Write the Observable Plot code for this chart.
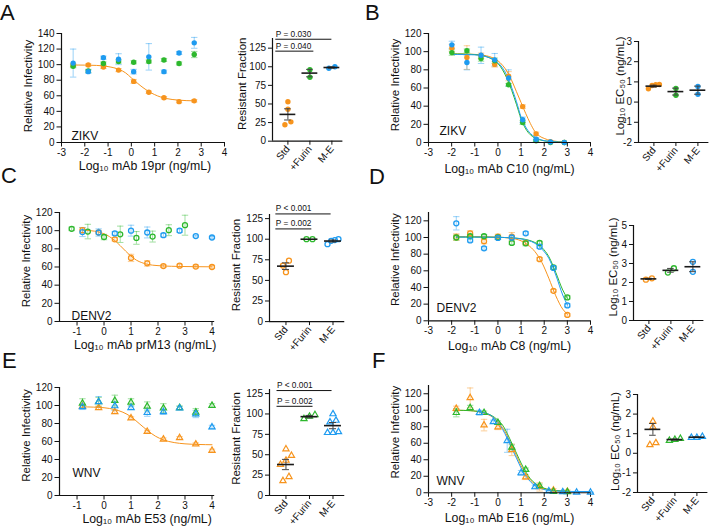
<!DOCTYPE html>
<html><head><meta charset="utf-8">
<script src="https://cdn.jsdelivr.net/npm/d3@7"></script>
<script src="https://cdn.jsdelivr.net/npm/@observablehq/plot@0.6"></script>
<style>
body{margin:0;background:#fff;}
#fig{position:relative;width:713px;height:529px;overflow:hidden;font-family:"Liberation Sans",Arial,Helvetica,sans-serif;background:#fff;}
#fig svg{position:absolute;overflow:visible;}
.lett{position:absolute;font-size:22px;line-height:1.15;color:#111;}
</style></head><body><div id="fig"></div>
<script>
// ---------------- DATA ----------------
const CATS = ["Std", "+Furin", "M-E"];

// Panel A: ZIKV, mAb 19pr
const A_x = [-2.5, -1.85, -1.2, -0.55, 0.1, 0.75, 1.4, 2.05, 2.7];
const A_std = [99.5, 99.5, 97, 93, 78.5, 64.5, 57.5, 52.5, 53.5];
const A_std_err = [2, 1.5, 2, 2, 2.5, 1.5, 1.5, 1.5, 1.5];
const A_furin = [98, 92, 101.5, 104, 103, 104, 106, 101.5, 113];
const A_furin_err = [2, 2, 2, 2, 2, 2, 2, 2, 4];
const A_me = [102, 91, 109, 107, 91, 110, 91, 115, 128];
const A_me_err = [18, 2, 2, 7, 3, 17, 2, 2, 7];
const A_curve_x = [-2.5, -2, -1.5, -1, -0.5, -0.25, 0, 0.25, 0.5, 0.75, 1, 1.25, 1.5, 2, 2.7];
const A_curve_std = [99.5, 99.4, 99, 97.5, 93.5, 89.5, 83, 76.5, 70.5, 65.5, 61.5, 58.5, 56.5, 54.5, 53.5];
const A_dot_std = [53, 43, 26, 22];
const A_dot_furin = [96, 86];
const A_dot_me = [98, 100];
const A_mean = [36, 91.5, 99];
const A_sem = [7.5, 5, 1];
const A_p_text = ["P = 0.030", "P = 0.040"];
const A_p_y = [137, 121];

// Panel B: ZIKV, mAb C10
const B_x = [-1.99, -1.34, -0.73, -0.14, 0.46, 1.07, 1.65, 2.27, 2.87];
const B_std = [104, 93.5, 95.5, 86, 73, 39.5, 9.5, 1, 0];
const B_std_err = [4, 13, 3, 3, 5, 2, 2, 1, 0];
const B_furin = [99, 101, 92.5, 90, 63.5, 22, 2, 0, 0];
const B_furin_err = [3, 2, 3, 3, 1.5, 2, 1, 0, 0];
const B_me = [107.5, 88, 96, 91, 71, 25, 3.5, 0.5, 0];
const B_me_err = [4, 8, 9, 7, 9, 3, 2, 1, 0];
const B_curve_x = [-2, -1.5, -1, -0.5, -0.2, 0, 0.2, 0.4, 0.6, 0.8, 1.0, 1.2, 1.4, 1.6, 1.8, 2.0, 2.3, 2.9];
const B_curve_std = [97.5, 97.4, 97, 95.5, 93, 90, 85, 78, 68, 56, 44, 32, 21, 12, 7, 4.5, 2, 0.5];
const B_curve_furin = [97.5, 97.4, 96.8, 94.5, 91, 87, 80, 70, 57, 42, 26, 15, 8.5, 5, 3, 1.8, 1, 0.2];
const B_curve_me = [97, 96.9, 96.5, 94.5, 91.5, 88, 82, 73, 60, 45, 28, 17, 10, 6, 3.5, 2, 1, 0.2];
const B_dot_std = [0.66, 0.82, 0.86, 0.87];
const B_dot_furin = [0.67, 0.34];
const B_dot_me = [0.77, 0.39];
const B_mean = [0.79, 0.52, 0.59];
const B_sem = [0.05, 0.17, 0.2];

// Panel C: DENV2, mAb prM13
const C_x = [-0.8, -0.2, 0.4, 1.0, 1.6, 2.2, 2.8, 3.4, 4.0];
const C_x_furin = [-1.2, -0.6, 0, 0.6, 1.2, 1.8, 2.4, 3.0];
const C_std = [100.5, 98, 90.5, 70, 64, 61, 61.5, 60.5, 60];
const C_std_err = [3, 2, 2, 4, 3, 1.5, 1.5, 1.5, 1.5];
const C_furin = [102, 99, 93, 96, 92, 93.5, 100.5, 106];
const C_furin_err = [2, 8, 3, 9, 7, 6, 6, 11];
const C_me = [98.5, 98, 97, 100, 98, 95, 100, 94, 92.5];
const C_me_err = [5, 4, 2, 6, 6, 2, 2, 1, 1];
const C_curve_x = [-0.8, -0.5, -0.2, 0, 0.2, 0.4, 0.6, 0.8, 1.0, 1.2, 1.4, 1.6, 2.0, 2.5, 3, 4];
const C_curve_std = [100.5, 100, 98.5, 96.5, 93.5, 89, 83.5, 77.5, 72, 67.5, 64.8, 63, 61.5, 60.8, 60.5, 60.2];
const C_dot_std = [74, 68, 60];
const C_dot_furin = [100, 100];
const C_dot_me = [98, 100, 99, 94];
const C_mean = [67.3, 100, 97.8];
const C_sem = [4, 0, 1.3];
const C_p_text = ["P < 0.001", "P = 0.002"];
const C_p_y = [130.7, 112.5];

// Panel D: DENV2, mAb C8
const D_x = [-1.8, -1.2, -0.6, 0, 0.6, 1.2, 1.8, 2.4, 3.0];
const D_std = [100.5, 105, 95.5, 101, 101, 93.5, 74, 36, 7];
const D_std_err = [4, 3, 3, 3, 5, 2, 2, 1.5, 1.5];
const D_furin = [100, 101.5, 101.5, 100, 93.5, 93, 93.5, 64, 28];
const D_furin_err = [3, 2, 2, 2, 2, 3, 2, 2, 2];
const D_me = [117, 96.5, 87, 99.5, 100, 105, 89, 63.5, 18.5];
const D_me_err = [8, 2, 2, 2, 2, 2, 2, 2, 2];
const D_curve_x = [-1.8, -1, -0.5, 0, 0.5, 1.0, 1.3, 1.6, 1.9, 2.2, 2.5, 2.8, 3.0];
const D_curve_std = [101, 101, 100.8, 100.4, 99.3, 96, 91, 83, 70, 51, 30, 14, 8];
const D_curve_furin = [100.5, 100.5, 100.4, 100.2, 99.8, 98.6, 97, 94, 88, 77, 58, 37, 27];
const D_curve_me = [100.5, 100.5, 100.4, 100.2, 99.7, 98.3, 96.5, 93, 86, 75, 55, 31, 19];
const D_dot_std = [2.15, 2.22];
const D_dot_furin = [2.52, 2.75];
const D_dot_me = [3.09, 2.56];
const D_mean = [2.19, 2.64, 2.83];
const D_sem = [0.03, 0.1, 0.26];

// Panel E: WNV, mAb E53
const E_x = [-0.8, -0.2, 0.4, 1.0, 1.6, 2.2, 2.8, 3.4, 4.0];
const E_std = [99, 97.5, 93, 86, 71, 62.5, 64, 57, 50];
const E_std_err = [2, 2, 2, 1.5, 1.5, 1.5, 1.5, 1.5, 1.5];
const E_furin = [102.5, 104, 105.5, 103.5, 99, 97, 97.5, 92.5, 100];
const E_furin_err = [5, 5, 6, 4, 5, 5, 2, 4, 2];
const E_me = [98.5, 104, 99.5, 97.5, 92, 93, 97, 90.5, 76];
const E_me_err = [3, 6, 5, 2, 4, 3, 2, 4, 2];
const E_curve_x = [-0.8, -0.4, 0, 0.4, 0.7, 1.0, 1.3, 1.6, 1.9, 2.2, 2.6, 3, 3.5, 4];
const E_curve_std = [98.5, 98.2, 97.5, 95.5, 92.5, 87.5, 80, 72.5, 66, 61.8, 58.8, 57.4, 56.7, 56.4];
const E_dot_std = [57, 49, 43, 38, 23, 18];
const E_dot_furin = [99, 94, 97];
const E_dot_me = [100, 92, 90, 78, 77, 77];
const E_mean = [38, 96.7, 85.7];
const E_sem = [6.3, 1.5, 3.8];
const E_p_text = ["P < 0.001", "P = 0.002"];
const E_p_y = [128.7, 109.4];

// Panel F: WNV, mAb E16
const F_x = [-1.8, -1.2, -0.6, 0, 0.6, 1.2, 1.8, 2.4, 3.0];
const F_x_me = [-0.8, -0.2, 0.4, 1.0, 1.6, 2.2, 2.8, 3.4, 4.0];
const F_std = [102, 115, 82, 79.5, 52, 19, 7, 3, 1.5];
const F_std_err = [3, 12, 7, 3, 7, 3, 5, 2, 2];
const F_furin = [97, 103, 97, 85, 55, 28, 8.5, 1.5, 1];
const F_furin_err = [5, 3, 2, 2, 3, 2, 2, 1, 1];
const F_me = [97, 86, 63, 24, 7, 2, 1, 0.5, 0.5];
const F_me_err = [3, 2, 14, 3, 2, 1, 1, 0.5, 0.5];
const F_curve_x = [-1.8, -1.2, -0.6, -0.3, 0, 0.2, 0.4, 0.6, 0.8, 1.0, 1.2, 1.4, 1.6, 1.8, 2.1, 2.4, 3.0];
const F_curve_std = [100, 99.5, 96.5, 93, 86, 79, 69, 57, 45, 33, 23, 15.5, 10.5, 7.2, 4.3, 2.8, 1.8];
const F_curve_furin = [100, 99.5, 97, 94, 88, 82, 72, 60, 48, 36, 25.5, 17, 11.5, 7.8, 4.6, 3, 1.9];
const F_curve_me_x = [-0.8, -0.6, -0.3, 0, 0.2, 0.4, 0.6, 0.8, 1.0, 1.2, 1.4, 1.6, 1.8, 2.1, 2.4, 3.0, 4.0];
const F_curve_me = [98, 97, 93.5, 85, 77, 66, 54, 42, 30, 20.5, 13.5, 8.5, 5.6, 3.3, 2.3, 1.6, 1.5];
const F_dot_std = [1.63, 1.34, 0.43, 0.53];
const F_dot_furin = [0.65, 0.7, 0.75];
const F_dot_me = [0.8, 0.85, 0.8];
const F_mean = [1.22, 0.7, 0.82];
const F_sem = [0.3, 0.03, 0.02];

// ---------------- STYLE / HELPERS ----------------
const FONT = "'Liberation Sans', Arial, Helvetica, sans-serif";
const ORANGE = "#F7941D", GREEN = "#2DB82D", BLUE = "#1E9BF0";
const COLORS = [ORANGE, GREEN, BLUE];
const fig = document.getElementById("fig");
const hline = {draw(ctx, size) { const w = Math.sqrt(size / Math.PI); ctx.moveTo(-w, 0); ctx.lineTo(w, 0); }};
const fmt = d => String(d);

function place(svg, left, top) {
  svg.style.position = "absolute";
  svg.style.left = left + "px";
  svg.style.top = top + "px";
  fig.appendChild(svg);
}

function pointMark(data, shape) {
  if (shape === "filled") return Plot.dot(data, {x: "x", y: "y", r: 2.7, fill: "c", stroke: "none"});
  if (shape === "ring") return Plot.dot(data, {x: "x", y: "y", r: 2.5, fill: "none", stroke: "c", strokeWidth: 1.3});
  return Plot.dot(data, {x: "x", y: "y", symbol: "triangle", r: 2.3, fill: "none", stroke: "c", strokeWidth: 1.2});
}

function spread(vals, k, r, maxW) {
  const order = vals.map((_, i) => i).sort((a, b) => vals[a] - vals[b]);
  const off = vals.map(() => 0);
  let cl = [];
  const flush = () => {
    const n = cl.length;
    const step = n > 1 ? Math.min(2 * r + 0.6, maxW / (n - 1)) : 0;
    cl.forEach((j, m) => off[j] = (m - (n - 1) / 2) * step);
  };
  order.forEach((j, i) => {
    if (i > 0 && (vals[j] - vals[order[i - 1]]) * k >= 2 * r) { flush(); cl = []; }
    cl.push(j);
  });
  flush();
  return off;
}

function dose(p) {
  const [fx0, fx1, fy0, fy1] = p.frame;
  const ml = 50, mr = 12, mt = 12, mb = 40;
  const pts = [], errs = [], curves = [];
  p.series.forEach((s, si) => {
    s.x.forEach((x, i) => {
      pts.push({x, y: s.y[i], c: s.color});
      if (s.err[i] > 0) errs.push({x, lo: s.y[i] - s.err[i], hi: s.y[i] + s.err[i], c: s.color});
    });
    if (s.cx) s.cx.forEach((x, i) => curves.push({x, y: s.cy[i], k: si, c: s.color}));
  });
  const svg = Plot.plot({
    width: ml + (fx1 - fx0) + mr, height: mt + (fy1 - fy0) + mb,
    marginLeft: ml, marginRight: mr, marginTop: mt, marginBottom: mb,
    style: {background: "transparent", fontFamily: FONT, fontSize: "10px", overflow: "visible", color: "#111"},
    x: {domain: p.xDomain, ticks: p.xTicks, tickFormat: fmt, tickSize: 4.5, tickPadding: 2, label: null},
    y: {domain: p.yDomain, ticks: p.yTicks, tickFormat: fmt, tickSize: 4.5, tickPadding: 2.5, label: null},
    color: {type: "identity"},
    marks: [
      Plot.ruleX(errs, {x: "x", y1: "lo", y2: "hi", stroke: "c", strokeOpacity: 0.45, strokeWidth: 1}),
      Plot.dot(errs, {x: "x", y: "lo", symbol: hline, r: 3.2, fill: "none", stroke: "c", strokeOpacity: 0.45, strokeWidth: 1}),
      Plot.dot(errs, {x: "x", y: "hi", symbol: hline, r: 3.2, fill: "none", stroke: "c", strokeOpacity: 0.45, strokeWidth: 1}),
      Plot.line(curves, {x: "x", y: "y", z: "k", stroke: "c", strokeWidth: 1, curve: "monotone-x"}),
      pointMark(pts, p.shape),
      Plot.ruleX([p.xDomain[0]], {stroke: "#111", strokeWidth: 1.2}),
      Plot.ruleY([p.yDomain[0]], {stroke: "#111", strokeWidth: 1.2}),
      Plot.text([p.virus], {frameAnchor: "bottom-left", dx: p.virusDx, dy: -p.virusUp, textAnchor: "start", lineAnchor: "bottom", fontSize: 12, fill: "#111"}),
      Plot.text(["Relative Infectivity"], {frameAnchor: "left", textAnchor: "middle", lineAnchor: "middle", rotate: -90, dx: -33, dy: p.yLabDy, fontSize: 11.5, fill: "#111"}),
      Plot.text([p.xLabel], {frameAnchor: "bottom", textAnchor: "middle", dx: p.xLabDx, dy: p.xLabDy, lineAnchor: "bottom", fontSize: 12.3, fill: "#111"})
    ]
  });
  place(svg, fx0 - ml, fy0 - mt);
}

function dotplot(p) {
  const [fx0, fx1, fy0, fy1] = p.frame;
  const xDom = [-0.7, 2.5];
  const ml = 40, mr = 8, mt = 24, mb = 40;
  const ky = (fy1 - fy0) / (p.yDomain[1] - p.yDomain[0]);
  const ux = (fx1 - fx0) / (xDom[1] - xDom[0]);
  const pts = [];
  p.groups.forEach((vals, g) => {
    const off = spread(vals, ky, 2.7, 11);
    vals.forEach((v, i) => pts.push({x: g + off[i] / ux, y: v, c: COLORS[g]}));
  });
  const stats = p.mean.map((m, g) => ({g, m, lo: m - p.sem[g], hi: m + p.sem[g]}));
  const semStats = stats.filter(s => s.hi > s.lo);
  const br = (p.pText || []).map((t, i) => ({t, y: p.pY[i], x1: p.pX1[i], x2: p.pX2[i]}));
  const svg = Plot.plot({
    width: ml + (fx1 - fx0) + mr, height: mt + (fy1 - fy0) + mb,
    marginLeft: ml, marginRight: mr, marginTop: mt, marginBottom: mb,
    style: {background: "transparent", fontFamily: FONT, fontSize: "10px", overflow: "visible", color: "#111"},
    x: {domain: xDom, ticks: [0, 1, 2], tickFormat: i => CATS[i], tickRotate: -50, tickSize: 4, tickPadding: 2, label: null},
    y: {domain: p.yDomain, ticks: p.yTicks, tickFormat: fmt, tickSize: 4, tickPadding: 2.5, label: null},
    color: {type: "identity"},
    marks: [
      pointMark(pts, p.shape),
      Plot.ruleX(semStats, {x: "g", y1: "lo", y2: "hi", stroke: "#444", strokeWidth: 1}),
      Plot.ruleY(semStats, {y: "lo", x1: d => d.g - 0.15, x2: d => d.g + 0.15, stroke: "#444", strokeWidth: 1}),
      Plot.ruleY(semStats, {y: "hi", x1: d => d.g - 0.15, x2: d => d.g + 0.15, stroke: "#444", strokeWidth: 1}),
      Plot.ruleY(stats, {y: "m", x1: d => d.g - 0.36, x2: d => d.g + 0.36, stroke: "#1a1a1a", strokeWidth: 1.6}),
      Plot.ruleY(br, {y: "y", x1: "x1", x2: "x2", stroke: "#111", strokeWidth: 1}),
      Plot.text(br, {x: "x1", y: "y", text: "t", dy: -2.5, textAnchor: "start", lineAnchor: "bottom", fontSize: 8.3, fill: "#111"}),
      Plot.ruleX([xDom[0]], {stroke: "#111", strokeWidth: 1.2}),
      Plot.ruleY([p.yDomain[0]], {stroke: "#111", strokeWidth: 1.2}),
      Plot.text([p.yLabel], {frameAnchor: "left", textAnchor: "middle", lineAnchor: "middle", rotate: -90, dx: p.yLabDx, dy: p.yLabDy, fontSize: 11.5, fill: "#111"})
    ]
  });
  place(svg, fx0 - ml, fy0 - mt);
}

// ---------------- PANELS ----------------
const T7 = [-3, -2, -1, 0, 1, 2, 3, 4];
const T6 = [-1, 0, 1, 2, 3, 4];
const Y140 = [0, 20, 40, 60, 80, 100, 120, 140];
const Y120 = [0, 20, 40, 60, 80, 100, 120];
const RF = [0, 25, 50, 75, 100, 125];
const EC = [-2, -1, 0, 1, 2, 3];
const RI = "Resistant Fraction";
const ECL = "Log\u2081\u2080 EC\u2085\u2080 (ng/mL)";

dose({frame: [61, 224, 33, 142], xDomain: [-3, 4], yDomain: [0, 140], xTicks: T7, yTicks: Y140, shape: "filled",
  series: [
    {x: A_x, y: A_std, err: A_std_err, color: ORANGE, cx: A_curve_x, cy: A_curve_std},
    {x: A_x, y: A_furin, err: A_furin_err, color: GREEN},
    {x: A_x, y: A_me, err: A_me_err, color: BLUE}],
  virus: "ZIKV", virusDx: 10, virusUp: 3, yLabDy: -2, xLabel: "Log\u2081\u2080 mAb 19pr (ng/mL)", xLabDx: 2, xLabDy: 27});
dotplot({frame: [271.6, 342, 38.3, 141], yDomain: [0, 138], yTicks: RF, shape: "filled",
  groups: [A_dot_std, A_dot_furin, A_dot_me], mean: A_mean, sem: A_sem,
  pText: A_p_text, pY: A_p_y, pX1: [-0.55, -0.55], pX2: [2.0, 1.18], yLabel: RI, yLabDx: -30, yLabDy: -6});

dose({frame: [428, 590, 33, 142], xDomain: [-3, 4], yDomain: [0, 120], xTicks: T7, yTicks: Y120, shape: "filled",
  series: [
    {x: B_x, y: B_std, err: B_std_err, color: ORANGE, cx: B_curve_x, cy: B_curve_std},
    {x: B_x, y: B_furin, err: B_furin_err, color: GREEN, cx: B_curve_x, cy: B_curve_furin},
    {x: B_x, y: B_me, err: B_me_err, color: BLUE, cx: B_curve_x, cy: B_curve_me}],
  virus: "ZIKV", virusDx: 11, virusUp: 8, yLabDy: -3, xLabel: "Log\u2081\u2080 mAb C10 (ng/mL)", xLabDx: 0, xLabDy: 30});
dotplot({frame: [637.6, 708, 41, 142], yDomain: [-2, 3], yTicks: EC, shape: "filled",
  groups: [B_dot_std, B_dot_furin, B_dot_me], mean: B_mean, sem: B_sem, yLabel: ECL, yLabDx: -18, yLabDy: -6});

dose({frame: [58.5, 213.7, 212, 321], xDomain: [-1.65, 4.1], yDomain: [0, 120], xTicks: T6, yTicks: Y120, shape: "ring",
  series: [
    {x: C_x, y: C_std, err: C_std_err, color: ORANGE, cx: C_curve_x, cy: C_curve_std},
    {x: C_x_furin, y: C_furin, err: C_furin_err, color: GREEN},
    {x: C_x, y: C_me, err: C_me_err, color: BLUE}],
  virus: "DENV2", virusDx: 12, virusUp: 1.5, yLabDy: -6, xLabel: "Log\u2081\u2080 mAb prM13 (ng/mL)", xLabDx: 8, xLabDy: 28});
dotplot({frame: [268.5, 343.75, 213.9, 321], yDomain: [0, 130], yTicks: RF, shape: "ring",
  groups: [C_dot_std, C_dot_furin, C_dot_me], mean: C_mean, sem: C_sem,
  pText: C_p_text, pY: C_p_y, pX1: [-0.43, -0.43], pX2: [1.92, 1.1], yLabel: RI, yLabDx: -33, yLabDy: -3});

dose({frame: [428, 590, 211.7, 320], xDomain: [-3, 4], yDomain: [0, 130], xTicks: T7, yTicks: Y120, shape: "ring",
  series: [
    {x: D_x, y: D_std, err: D_std_err, color: ORANGE, cx: D_curve_x, cy: D_curve_std},
    {x: D_x, y: D_furin, err: D_furin_err, color: GREEN, cx: D_curve_x, cy: D_curve_furin},
    {x: D_x, y: D_me, err: D_me_err, color: BLUE, cx: D_curve_x, cy: D_curve_me}],
  virus: "DENV2", virusDx: 8, virusUp: 9, yLabDy: -7, xLabel: "Log\u2081\u2080 mAb C8 (ng/mL)", xLabDx: 0, xLabDy: 29});
dotplot({frame: [632.6, 703, 225, 320], yDomain: [0, 5], yTicks: [0, 1, 2, 3, 4, 5], shape: "ring",
  groups: [D_dot_std, D_dot_furin, D_dot_me], mean: D_mean, sem: D_sem, yLabel: ECL, yLabDx: -20, yLabDy: -6});

dose({frame: [58.5, 213.7, 387, 495], xDomain: [-1.65, 4.1], yDomain: [0, 120], xTicks: T6, yTicks: Y120, shape: "triangle",
  series: [
    {x: E_x, y: E_std, err: E_std_err, color: ORANGE, cx: E_curve_x, cy: E_curve_std},
    {x: E_x, y: E_furin, err: E_furin_err, color: GREEN},
    {x: E_x, y: E_me, err: E_me_err, color: BLUE}],
  virus: "WNV", virusDx: 13, virusUp: 18, yLabDy: -6, xLabel: "Log\u2081\u2080 mAb E53 (ng/mL)", xLabDx: 10, xLabDy: 28});
dotplot({frame: [268.5, 343.75, 389, 495], yDomain: [0, 130], yTicks: RF, shape: "triangle",
  groups: [E_dot_std, E_dot_furin, E_dot_me], mean: E_mean, sem: E_sem,
  pText: E_p_text, pY: E_p_y, pX1: [-0.38, -0.38], pX2: [1.96, 1.15], yLabel: RI, yLabDx: -33, yLabDy: -4});

dose({frame: [428, 590, 384.75, 492], xDomain: [-3, 4], yDomain: [0, 130], xTicks: T7, yTicks: Y120, shape: "triangle",
  series: [
    {x: F_x, y: F_std, err: F_std_err, color: ORANGE, cx: F_curve_x, cy: F_curve_std},
    {x: F_x, y: F_furin, err: F_furin_err, color: GREEN, cx: F_curve_x, cy: F_curve_furin},
    {x: F_x_me, y: F_me, err: F_me_err, color: BLUE, cx: F_curve_me_x, cy: F_curve_me}],
  virus: "WNV", virusDx: 8, virusUp: 8, yLabDy: -7, xLabel: "Log\u2081\u2080 mAb E16 (ng/mL)", xLabDx: 0, xLabDy: 29});
dotplot({frame: [636.6, 707, 394, 492], yDomain: [-2, 3], yTicks: EC, shape: "triangle",
  groups: [F_dot_std, F_dot_furin, F_dot_me], mean: F_mean, sem: F_sem, yLabel: ECL, yLabDx: -22, yLabDy: -2});

// panel letters
[["A", 0, 0], ["B", 365, 0], ["C", 1, 163], ["D", 369, 164], ["E", 2, 348], ["F", 372, 348]].forEach(([t, l, tp]) => {
  const d = document.createElement("div");
  d.className = "lett"; d.textContent = t; d.style.left = l + "px"; d.style.top = tp + "px";
  fig.appendChild(d);
});
</script></body></html>
